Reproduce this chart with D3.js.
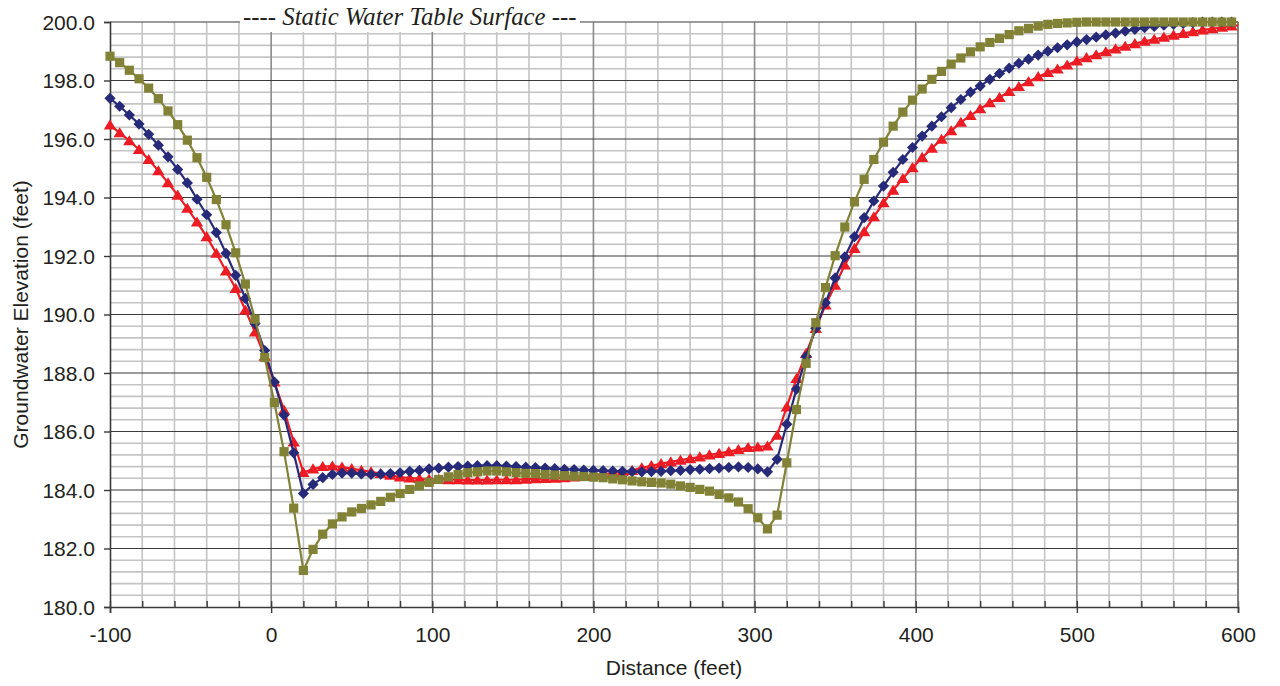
<!DOCTYPE html>
<html>
<head>
<meta charset="utf-8">
<title>Groundwater Elevation</title>
<script src="https://cdn.jsdelivr.net/npm/d3@7"></script>
<style>
    html, body { margin: 0; padding: 0; background: #fff; }
    svg { display: block; }
    .tick text { font-family: "Liberation Sans", Arial, sans-serif; font-size: 21px; fill: #231f20; }
</style>
</head>
<body>
<svg width="1280" height="686"></svg>
<script>
// distance along the section (feet), one reading every 6 ft
var DISTANCE = [
    -100, -94, -88, -82, -76, -70, -64, -58, -52, -46, -40, -34, -28, -22, -16, -10, -4, 2, 8, 14,
    20, 26, 32, 38, 44, 50, 56, 62, 68, 74, 80, 86, 92, 98, 104, 110, 116, 122, 128, 134,
    140, 146, 152, 158, 164, 170, 176, 182, 188, 194, 200, 206, 212, 218, 224, 230, 236, 242, 248, 254,
    260, 266, 272, 278, 284, 290, 296, 302, 308, 314, 320, 326, 332, 338, 344, 350, 356, 362, 368, 374,
    380, 386, 392, 398, 404, 410, 416, 422, 428, 434, 440, 446, 452, 458, 464, 470, 476, 482, 488, 494,
    500, 506, 512, 518, 524, 530, 536, 542, 548, 554, 560, 566, 572, 578, 584, 590, 596, 602
];

// red triangles
var SERIES_RED = [
    196.48, 196.21, 195.94, 195.64, 195.30, 194.91, 194.50, 194.08, 193.63, 193.16, 192.66, 192.09, 191.49, 190.89, 190.15, 189.40, 188.57, 187.69, 186.73, 185.64,
    184.60, 184.72, 184.80, 184.82, 184.78, 184.73, 184.67, 184.62, 184.56, 184.50, 184.44, 184.41, 184.39, 184.37, 184.36, 184.35, 184.35, 184.34, 184.34, 184.34,
    184.35, 184.35, 184.35, 184.37, 184.38, 184.39, 184.40, 184.42, 184.44, 184.47, 184.50, 184.54, 184.58, 184.63, 184.67, 184.76, 184.83, 184.90, 184.96, 185.02,
    185.07, 185.13, 185.20, 185.25, 185.31, 185.38, 185.45, 185.47, 185.50, 185.87, 186.84, 187.81, 188.67, 189.52, 190.32, 191.00, 191.69, 192.26, 192.83, 193.34,
    193.82, 194.25, 194.65, 195.02, 195.37, 195.68, 195.99, 196.28, 196.57, 196.80, 197.03, 197.24, 197.42, 197.62, 197.79, 197.96, 198.13, 198.27, 198.39, 198.53,
    198.67, 198.78, 198.88, 198.98, 199.08, 199.17, 199.26, 199.34, 199.41, 199.48, 199.55, 199.61, 199.67, 199.73, 199.77, 199.82, 199.86, 199.90
];

// blue diamonds
var SERIES_BLUE = [
    197.39, 197.12, 196.82, 196.51, 196.16, 195.79, 195.39, 194.96, 194.50, 193.94, 193.41, 192.80, 192.09, 191.34, 190.55, 189.69, 188.77, 187.69, 186.56, 185.27,
    183.88, 184.19, 184.42, 184.53, 184.58, 184.58, 184.55, 184.53, 184.54, 184.56, 184.59, 184.64, 184.67, 184.72, 184.75, 184.78, 184.80, 184.82, 184.83, 184.83,
    184.83, 184.82, 184.80, 184.78, 184.77, 184.75, 184.73, 184.71, 184.70, 184.68, 184.67, 184.66, 184.65, 184.64, 184.63, 184.62, 184.63, 184.64, 184.66, 184.67,
    184.70, 184.71, 184.73, 184.75, 184.77, 184.79, 184.77, 184.72, 184.62, 185.05, 186.25, 187.45, 188.56, 189.53, 190.40, 191.25, 191.97, 192.66, 193.31, 193.88,
    194.39, 194.86, 195.30, 195.71, 196.10, 196.44, 196.76, 197.07, 197.35, 197.60, 197.81, 198.04, 198.24, 198.42, 198.59, 198.73, 198.87, 199.00, 199.12, 199.22,
    199.32, 199.40, 199.48, 199.56, 199.62, 199.69, 199.75, 199.81, 199.85, 199.89, 199.92, 199.95, 199.98, 200.00, 200.00, 200.00, 200.00, 200.00
];

// olive squares
var SERIES_OLIVE = [
    198.83, 198.61, 198.35, 198.06, 197.74, 197.38, 196.96, 196.49, 195.96, 195.36, 194.69, 193.93, 193.07, 192.11, 191.04, 189.84, 188.53, 186.99, 185.31, 183.38,
    181.25, 181.97, 182.49, 182.84, 183.08, 183.25, 183.37, 183.49, 183.61, 183.75, 183.88, 184.02, 184.14, 184.26, 184.36, 184.45, 184.53, 184.59, 184.62, 184.65,
    184.65, 184.62, 184.59, 184.57, 184.56, 184.53, 184.51, 184.49, 184.47, 184.46, 184.44, 184.42, 184.38, 184.35, 184.31, 184.28, 184.26, 184.24, 184.20, 184.14,
    184.09, 184.02, 183.96, 183.85, 183.73, 183.59, 183.36, 183.05, 182.67, 183.14, 184.93, 186.75, 188.33, 189.72, 190.92, 192.01, 192.99, 193.85, 194.62, 195.30,
    195.89, 196.44, 196.92, 197.33, 197.71, 198.04, 198.31, 198.56, 198.77, 198.98, 199.15, 199.30, 199.44, 199.57, 199.70, 199.78, 199.86, 199.92, 199.95, 199.97,
    199.99, 200.00, 200.00, 200.00, 200.00, 200.00, 200.00, 200.00, 200.00, 200.00, 200.00, 200.00, 200.00, 200.00, 200.00, 200.00, 200.00, 200.00
];

var X_MAJOR = [-100, 0, 100, 200, 300, 400, 500, 600];
var X_MINOR = [-80, -60, -40, -20, 20, 40, 60, 80, 120, 140, 160, 180, 220, 240, 260, 280,
    320, 340, 360, 380, 420, 440, 460, 480, 520, 540, 560, 580];
var Y_MAJOR = [180, 182, 184, 186, 188, 190, 192, 194, 196, 198, 200];
var Y_MINOR = [180.4, 180.8, 181.2, 181.6, 182.4, 182.8, 183.2, 183.6, 184.4, 184.8, 185.2, 185.6,
    186.4, 186.8, 187.2, 187.6, 188.4, 188.8, 189.2, 189.6, 190.4, 190.8, 191.2, 191.6,
    192.4, 192.8, 193.2, 193.6, 194.4, 194.8, 195.2, 195.6, 196.4, 196.8, 197.2, 197.6,
    198.4, 198.8, 199.2, 199.6];

var TITLE = '---- Static Water Table Surface ---';
var X_LABEL = 'Distance (feet)';
var Y_LABEL = 'Groundwater Elevation (feet)';

var PLOT = { left: 110, right: 1238, top: 22, bottom: 607 };

var svg = d3.select('svg');

var x = d3.scaleLinear().domain([-100, 600]).range([PLOT.left, PLOT.right]);
var y = d3.scaleLinear().domain([180, 200]).range([PLOT.bottom, PLOT.top]);

// ---- grid ----
var grid = svg.append('g');

grid.selectAll('.hminor')
    .data(Y_MINOR)
    .enter().append('line')
    .attr('x1', PLOT.left).attr('x2', PLOT.right)
    .attr('y1', function (d) { return y(d); })
    .attr('y2', function (d) { return y(d); })
    .attr('stroke', '#c4c4c4').attr('stroke-width', 1.6);

grid.selectAll('.vminor')
    .data(X_MINOR)
    .enter().append('line')
    .attr('y1', PLOT.top).attr('y2', PLOT.bottom)
    .attr('x1', function (d) { return x(d); })
    .attr('x2', function (d) { return x(d); })
    .attr('stroke', '#c4c4c4').attr('stroke-width', 1.6);

grid.selectAll('.vmajor')
    .data(X_MAJOR.slice(1))
    .enter().append('line')
    .attr('y1', PLOT.top).attr('y2', PLOT.bottom)
    .attr('x1', function (d) { return x(d); })
    .attr('x2', function (d) { return x(d); })
    .attr('stroke', '#8a8a8a').attr('stroke-width', 1.6);

grid.selectAll('.hmajor')
    .data(Y_MAJOR.slice(1, -1))
    .enter().append('line')
    .attr('x1', PLOT.left).attr('x2', PLOT.right)
    .attr('y1', function (d) { return y(d); })
    .attr('y2', function (d) { return y(d); })
    .attr('stroke', '#3a3a3a').attr('stroke-width', 1.2);

// top border
grid.append('line')
    .attr('x1', PLOT.left).attr('x2', PLOT.right)
    .attr('y1', y(200)).attr('y2', y(200))
    .attr('stroke', '#7a7a7a').attr('stroke-width', 1.6);

// ---- axes ----
var xAxis = svg.append('g')
    .attr('transform', 'translate(0,' + PLOT.bottom + ')')
    .call(d3.axisBottom(x)
        .tickValues(X_MAJOR)
        .tickSize(6)
        .tickPadding(14)
        .tickFormat(function (d) { return String(d); }));

// small inward ticks along the distance axis
var xInner = svg.append('g')
    .attr('transform', 'translate(0,' + PLOT.bottom + ')')
    .call(d3.axisBottom(x)
        .tickValues(X_MINOR.concat(X_MAJOR))
        .tickSize(-6)
        .tickFormat(''));

var yAxis = svg.append('g')
    .attr('transform', 'translate(' + PLOT.left + ',0)')
    .call(d3.axisLeft(y)
        .tickValues(Y_MAJOR)
        .tickSize(6)
        .tickPadding(9)
        .tickFormat(d3.format('.1f')));

[xAxis, xInner, yAxis].forEach(function (g) {
    g.select('.domain').attr('stroke', '#3a3a3a').attr('stroke-width', 1.6);
    g.selectAll('.tick line').attr('stroke', '#3a3a3a').attr('stroke-width', 1.4);
});
xInner.select('.domain').remove();
yAxis.selectAll('.tick text').attr('dy', '0.34em');

// right border
svg.append('line')
    .attr('x1', x(600)).attr('x2', x(600))
    .attr('y1', PLOT.top).attr('y2', PLOT.bottom)
    .attr('stroke', '#7a7a7a').attr('stroke-width', 1.6);

// ---- series ----
var clip = svg.append('clipPath').attr('id', 'plot-clip')
    .append('rect')
    .attr('x', PLOT.left).attr('y', 0)
    .attr('width', PLOT.right - PLOT.left).attr('height', 686);

var markers = {
    square: function (s) {
        return 'M' + (-s) + ',' + (-s) + 'H' + s + 'V' + s + 'H' + (-s) + 'Z';
    },
    diamond: function (s) {
        return 'M0,' + (-s) + 'L' + s + ',0L0,' + s + 'L' + (-s) + ',0Z';
    },
    triangle: function (s) {
        return 'M0,' + (-s) + 'L' + (s + 0.6) + ',' + (s * 0.8) + 'L' + (-s - 0.6) + ',' + (s * 0.8) + 'Z';
    }
};

var series = [
    { values: SERIES_RED, color: '#ec1c24', shape: 'triangle', size: 5.6 },
    { values: SERIES_BLUE, color: '#262a78', shape: 'diamond', size: 5.6 },
    { values: SERIES_OLIVE, color: '#828236', shape: 'square', size: 4.6 }
];

var line = d3.line()
    .x(function (d) { return x(d.x); })
    .y(function (d) { return y(d.y); });

series.forEach(function (s) {
    var pts = DISTANCE.map(function (d, i) { return { x: d, y: s.values[i] }; });
    var g = svg.append('g');

    g.append('path')
        .datum(pts)
        .attr('clip-path', 'url(#plot-clip)')
        .attr('fill', 'none')
        .attr('stroke', s.color)
        .attr('stroke-width', 2.2)
        .attr('d', line);

    g.selectAll('path.mark')
        .data(pts.filter(function (p) { return p.x <= 600; }))
        .enter().append('path')
        .attr('class', 'mark')
        .attr('transform', function (p) { return 'translate(' + x(p.x) + ',' + y(p.y) + ')'; })
        .attr('d', markers[s.shape](s.size))
        .attr('fill', s.color);
});

// ---- title box over the top border ----
svg.append('rect')
    .attr('x', 240).attr('y', 0)
    .attr('width', 340).attr('height', 32)
    .attr('fill', '#fff');

svg.append('text')
    .attr('x', 243).attr('y', 25)
    .attr('font-family', '"Liberation Serif", "Times New Roman", serif')
    .attr('font-style', 'italic')
    .attr('font-size', 24.8)
    .attr('fill', '#231f20')
    .text(TITLE);

// ---- axis titles ----
svg.append('text')
    .attr('x', (PLOT.left + PLOT.right) / 2).attr('y', 675)
    .attr('text-anchor', 'middle')
    .attr('font-family', '"Liberation Sans", Arial, sans-serif')
    .attr('font-size', 21)
    .attr('fill', '#231f20')
    .text(X_LABEL);

svg.append('text')
    .attr('transform', 'translate(28,' + ((PLOT.top + PLOT.bottom) / 2) + ') rotate(-90)')
    .attr('text-anchor', 'middle')
    .attr('font-family', '"Liberation Sans", Arial, sans-serif')
    .attr('font-size', 21)
    .attr('fill', '#231f20')
    .text(Y_LABEL);
</script>
</body>
</html>
